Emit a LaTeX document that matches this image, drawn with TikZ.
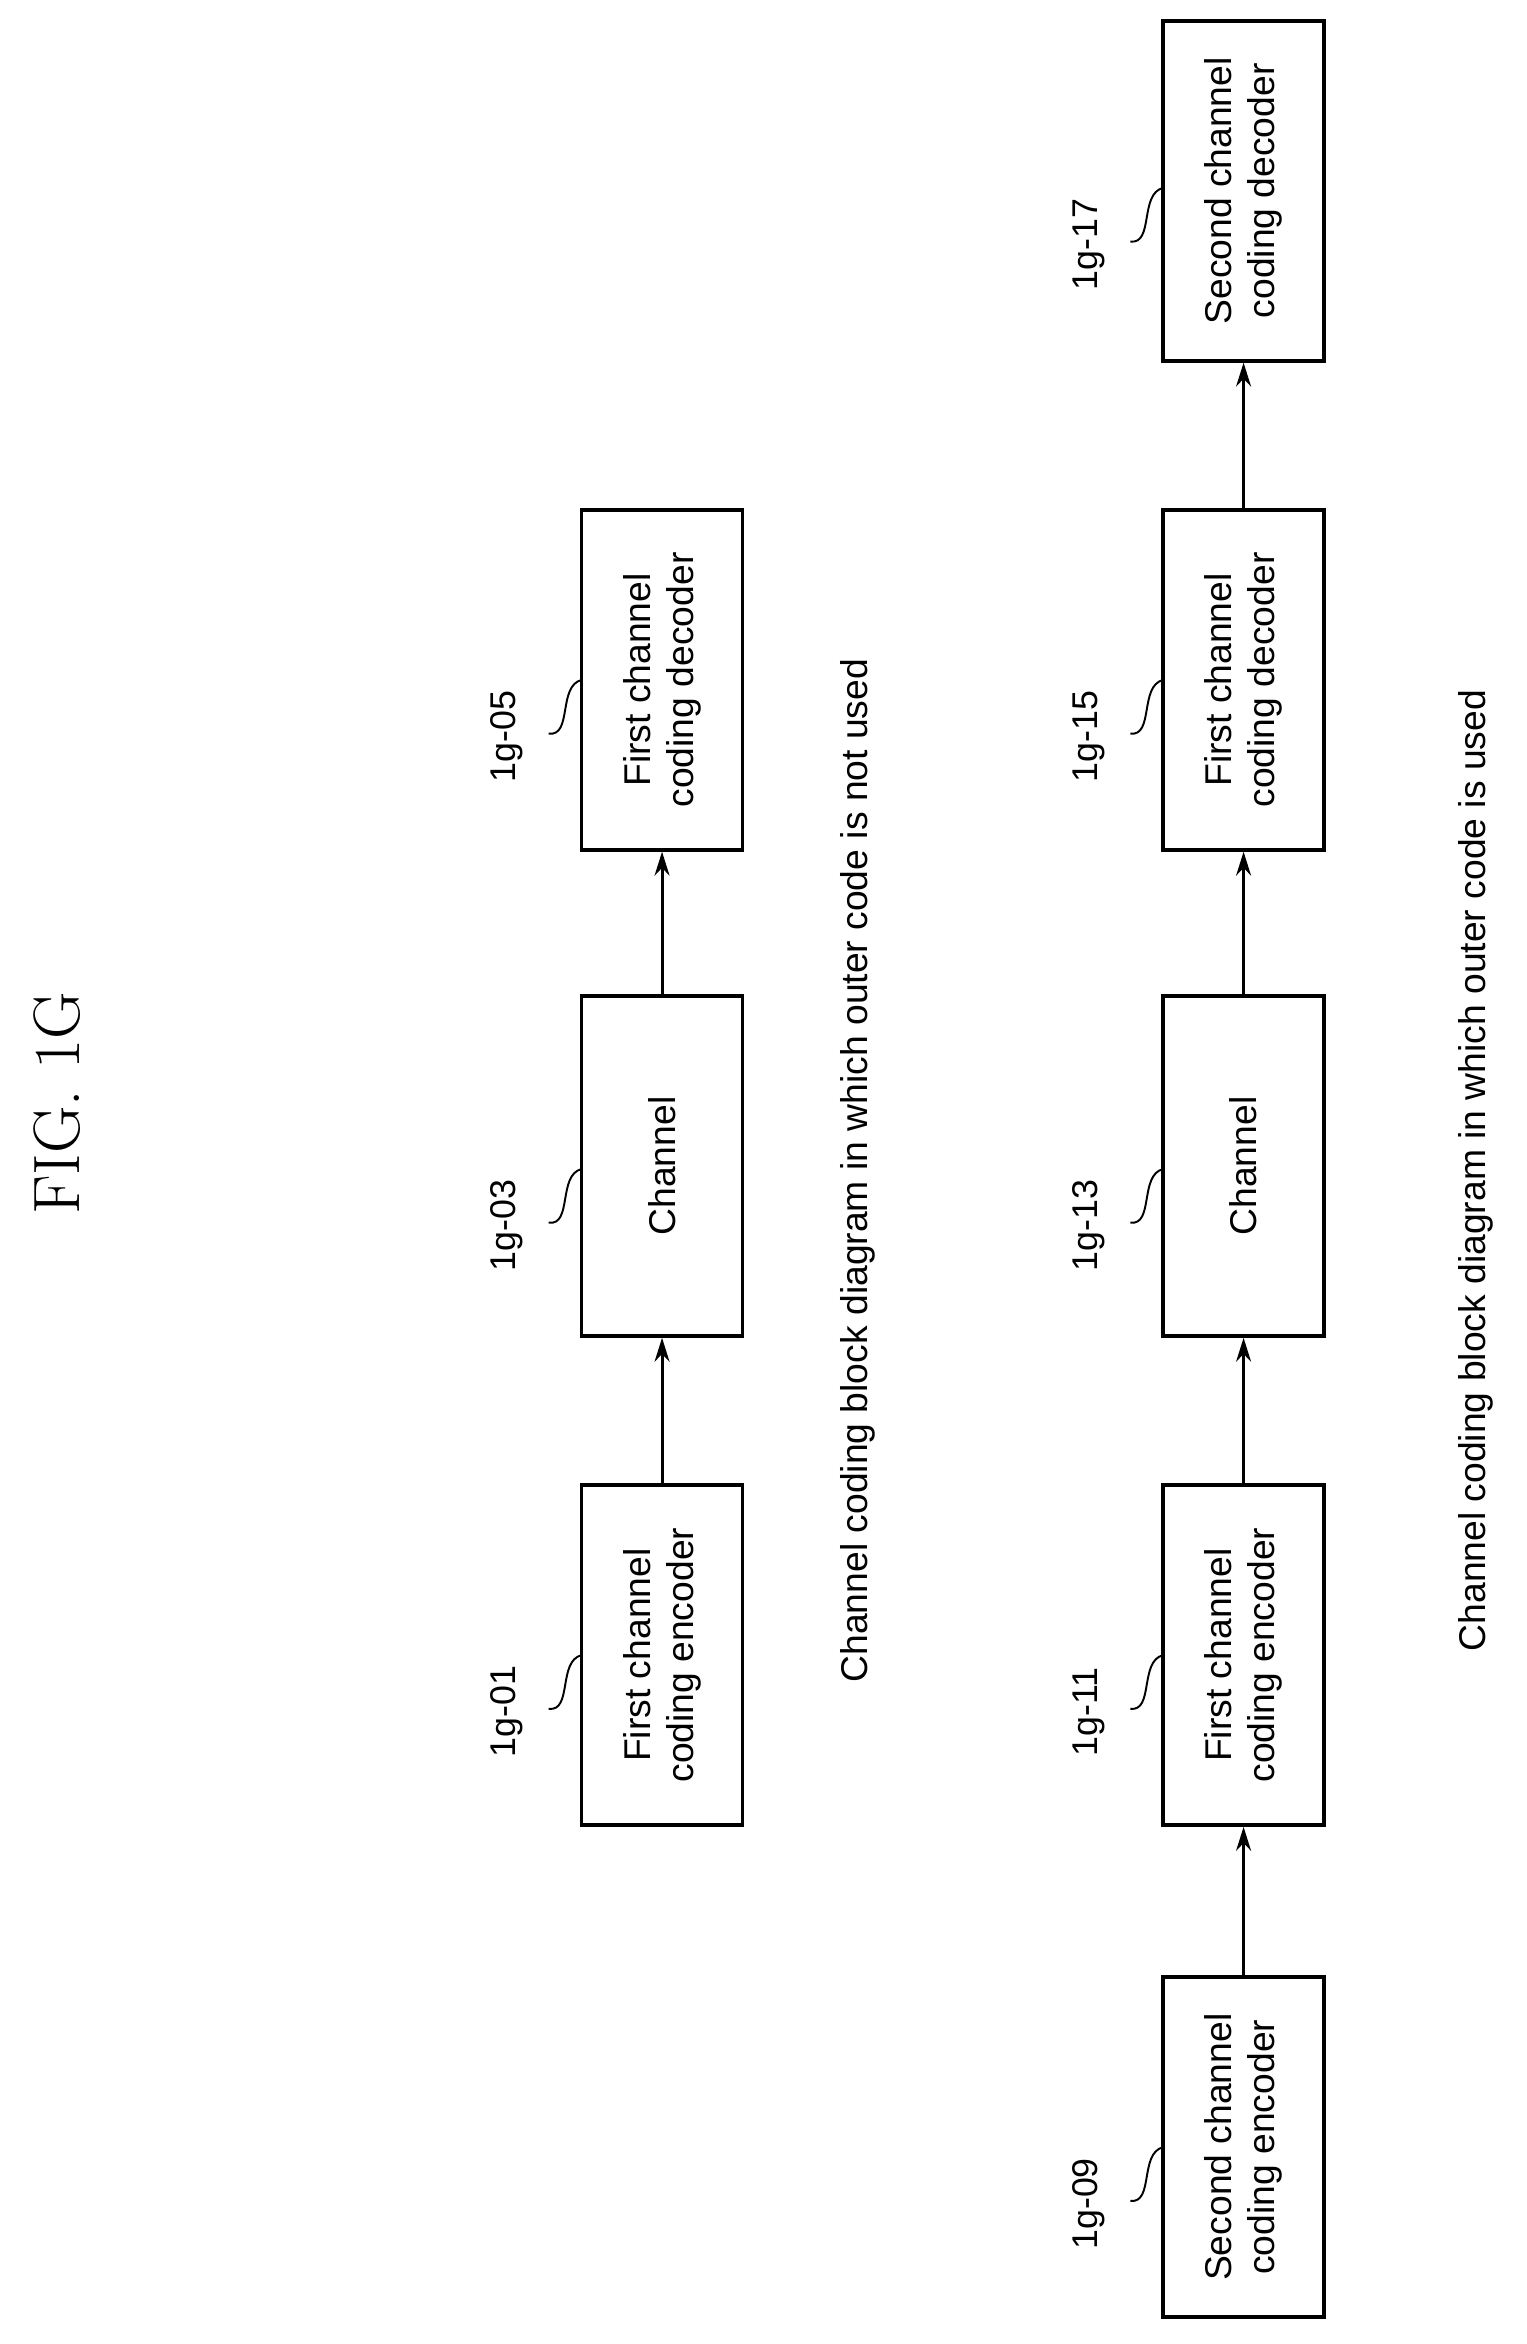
\documentclass[tikz,border=0pt]{standalone}
\usepackage{fontspec}
\setsansfont{Liberation Sans}
\usetikzlibrary{arrows.meta}
\begin{document}
\begin{tikzpicture}[x=1pt,y=-1pt,
 box/.style={draw,line width=2.4pt,minimum width=228pt,minimum height=108pt,rotate=90,align=center,font=\sffamily\fontsize{25}{29}\selectfont,inner sep=0pt},
 lab/.style={rotate=90,font=\sffamily\fontsize{24}{26}\selectfont},
 arr/.style={line width=2pt,-{Stealth[length=16pt,width=10pt]}},
 lead/.style={line width=1.3pt}]
\useasboundingbox (0,0) rectangle (1024,1572);
\node[rotate=90,font=\fontsize{44}{48}\selectfont] (fig) at (38,740) {FIG.\ 1G};
% top row
\node[box] (a1) at (444,1110) {First channel\\coding encoder};
\node[box] (a3) at (444,782) {Channel};
\node[box] (a5) at (444,456) {First channel\\coding decoder};
\draw[arr] (a1) -- (a3);
\draw[arr] (a3) -- (a5);
\node[rotate=90,font=\sffamily\fontsize{25}{29}\selectfont] (c1) at (575,785) {Channel coding block diagram in which outer code is not used};
% bottom row
\node[box] (b9) at (834,1440) {Second channel\\coding encoder};
\node[box] (b11) at (834,1110) {First channel\\coding encoder};
\node[box] (b13) at (834,782) {Channel};
\node[box] (b15) at (834,456) {First channel\\coding decoder};
\node[box] (b17) at (834,128) {Second channel\\coding decoder};
\draw[arr] (b9) -- (b11);
\draw[arr] (b11) -- (b13);
\draw[arr] (b13) -- (b15);
\draw[arr] (b15) -- (b17);
\node[rotate=90,font=\sffamily\fontsize{25}{29}\selectfont] (c2) at (990,785) {Channel coding block diagram in which outer code is used};
% labels
\foreach \n/\t/\x/\y in {l1/1g-01/340/1148, l3/1g-03/340/822, l5/1g-05/340/494, l9/1g-09/730/1478, l11/1g-11/730/1148, l13/1g-13/730/822, l15/1g-15/730/494, l17/1g-17/730/164}{
  \node[lab] (\n) at (\x,\y) {\t};
  \coordinate (\n s) at (\x+28,\y-2);
  \coordinate (\n e) at (\x+50,\y-38);
  \draw[lead] (\n s) .. controls (\x+44,\y) and (\x+34,\y-34) .. (\n e);
}
\end{tikzpicture}
\end{document}
